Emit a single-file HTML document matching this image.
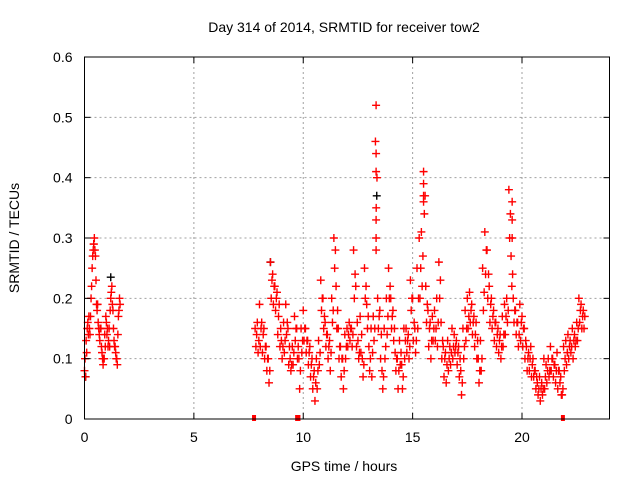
<!DOCTYPE html>
<html><head><meta charset="utf-8"><style>
html,body{margin:0;padding:0;background:#fff;}
svg{display:block;font-family:"Liberation Sans",sans-serif;}
</style></head><body>
<svg id="chart" width="640" height="480" viewBox="0 0 640 480" xmlns="http://www.w3.org/2000/svg">
<rect width="640" height="480" fill="#fff"/>
<text x="344" y="32" font-size="14" text-anchor="middle" fill="#000">Day 314 of 2014, SRMTID for receiver tow2</text>
<text transform="translate(19,238) rotate(-90)" font-size="14" text-anchor="middle" fill="#000">SRMTID / TECUs</text>
<text x="344" y="471" font-size="14" text-anchor="middle" fill="#000">GPS time / hours</text>
<g id="grid"></g>
<g id="marks"></g>
<g id="axes"></g>
</svg>
<script>
const xTicks = [0,5,10,15,20];
const yTicks = [0,0.1,0.2,0.3,0.4,0.5,0.6];
const yTickLabels = ["0","0.1","0.2","0.3","0.4","0.5","0.6"];
const seg1Start = 0.0;
const seg1Vals = [0.08,0.07,0.11,0.16,0.17,0.14,0.2,0.25,0.28,0.3,0.27,0.19,0.19,0.15,0.13,0.15,0.11,0.09,0.1,0.12,0.16,0.15,0.13,0.12,0.2,0.22,0.18,0.13,0.12,0.1,0.09,0.17,0.2];
const seg1Mid = [0.1,0.13,0.15,0.14,0.15,0.17,0.22,0.27,0.29,0.28,0.23,0.18,0.16,0.14,0.15,0.12,0.1,0.1,0.14,0.17,0.14,0.12,0.15,0.18,0.21,0.19,0.15,0.12,0.11,0.1,0.14,0.18,0.19];
const seg2Start = 7.8;
const seg2Hi = [.15,.16,
.19,.16,.15,.12,.1,.26,.24,.22,.21,.19,
.13,.16,.19,.15,.1,.12,.17,.15,.1,.15,
.18,.15,.13,.12,.1,.08,.1,.13,.23,.2,
.16,.14,.13,.2,.3,.22,.15,.12,.1,.14,
.15,.16,.15,.28,.22,.13,.17,.1,.25,.19,
.12,.15,.17,.46,.2,.18,.08,.15,.2,.25,
.2,.18,.11,.1,.13,.09,.15,.15,.14,.23,
.2,.15,.25,.3,.31,.41,.22,.18,.16,.17,
.18,.2,.26,.16,.12,.11,.13,.12,.15,.14,
.13,.12,.08,.15,.18,.2,.21,.19,.17,.16,
.1,.13,.25,.31,.28,.22,.2,.18,.16,.15,
.14,.17,.19,.2,.38,.27,.2,.18,.16,.19,
.17,.15,.12,.11,.12,.1,.08,.06,.07,.06,
.1,.09,.1,.12,.1,.09,.11,.08,.04,.12,
.13,.14,.13,.15,.14,.16,.2,.19,.18];
const seg2Lo = [.12,.11,
.12,.11,.1,.08,.06,.2,.19,.18,.14,.12,
.1,.11,.14,.09,.08,.09,.13,.1,.05,.11,
.13,.11,.09,.07,.05,.03,.05,.09,.18,.15,
.12,.1,.08,.16,.25,.15,.1,.07,.05,.1,
.12,.13,.12,.2,.12,.1,.11,.07,.2,.15,
.08,.07,.13,.35,.15,.1,.05,.1,.14,.2,
.15,.13,.08,.05,.09,.05,.1,.11,.1,.18,
.13,.11,.15,.2,.22,.34,.16,.12,.1,.13,
.13,.12,.2,.1,.07,.06,.08,.09,.1,.11,
.09,.07,.04,.1,.13,.15,.16,.14,.12,.1,
.06,.08,.18,.24,.2,.16,.15,.13,.12,.11,
.1,.12,.14,.16,.3,.22,.16,.14,.12,.13,
.12,.1,.08,.08,.07,.07,.05,.04,.03,.04,
.05,.06,.07,.08,.07,.06,.05,.06,.04,.08,
.09,.1,.11,.1,.12,.13,.16,.15,.15];
const seg2Mid = [.14,.13,
.15,.14,.12,.1,.08,.23,.22,.2,.17,.15,
.12,.13,.16,.12,.09,.11,.15,.12,.08,.13,
.15,.13,.11,.09,.07,.06,.08,.11,.2,.17,
.14,.12,.11,.18,.28,.18,.12,.1,.08,.12,
.14,.15,.14,.24,.16,.11,.14,.09,.22,.17,
.1,.11,.15,.4,.17,.14,.07,.12,.17,.22,
.17,.15,.1,.08,.11,.07,.13,.13,.12,.2,
.16,.13,.2,.25,.27,.37,.19,.15,.13,.15,
.15,.16,.23,.13,.1,.09,.1,.11,.12,.12,
.11,.1,.06,.12,.15,.17,.18,.16,.14,.13,
.08,.1,.21,.28,.24,.19,.17,.16,.14,.13,
.12,.14,.17,.18,.34,.24,.18,.16,.14,.16,
.15,.13,.1,.1,.09,.08,.07,.05,.05,.05,
.07,.08,.08,.1,.09,.08,.08,.07,.05,.1,
.11,.12,.12,.13,.13,.15,.18,.17,.17];
const spikeTimes = [13.33,13.33,13.33,13.33,13.33,13.33,15.5,15.5,15.5,19.55,19.55,19.55,0.42];
const spikeVals = [0.52,0.44,0.41,0.33,0.3,0.28,0.39,0.37,0.36,0.36,0.33,0.3,0.29];
const blackTimes = [0.05,1.2,8.5,13.36];
const blackVals = [0.07,0.235,0.26,0.37];
const zeroTimes = [7.75,9.72,9.78,21.87];

const X0=84.5, X1=609.5, Y0=419, Y1=57;
function sx(h){return X0+(h/24)*(X1-X0);}
function sy(v){return Y0-(v/0.6)*(Y0-Y1);}
const NS="http://www.w3.org/2000/svg";
function mk(tag,attrs,parent){const e=document.createElementNS(NS,tag);for(const k in attrs)e.setAttribute(k,attrs[k]);parent.appendChild(e);return e;}
const grid=document.getElementById('grid'), marks=document.getElementById('marks'), axes=document.getElementById('axes');

yTicks.forEach((v,i)=>{
  if(v>0&&v<0.6){const l=mk('line',{x1:X0,x2:X1,y1:sy(v),y2:sy(v),stroke:'#a0a0a0','stroke-dasharray':'2,3'},grid);
  
  }
  const t=mk('text',{x:X0-12,y:sy(v)+5,'font-size':14,'text-anchor':'end',fill:'#000'},axes);
  t.textContent=yTickLabels[i];
  
  
  mk('line',{x1:X0,x2:X0+6,y1:sy(v),y2:sy(v),stroke:'#000'},axes);
  mk('line',{x1:X1,x2:X1-6,y1:sy(v),y2:sy(v),stroke:'#000'},axes);
});
xTicks.forEach(h=>{
  if(h>0){const l=mk('line',{x1:sx(h),x2:sx(h),y1:Y0,y2:Y1,stroke:'#a0a0a0','stroke-dasharray':'2,3'},grid);
  
  }
  const t=mk('text',{x:sx(h),y:Y0+23,'font-size':14,'text-anchor':'middle',fill:'#000'},axes);
  t.textContent=String(h);
  
  
  mk('line',{x1:sx(h),x2:sx(h),y1:Y0,y2:Y0-6,stroke:'#000'},axes);
  mk('line',{x1:sx(h),x2:sx(h),y1:Y1,y2:Y1+6,stroke:'#000'},axes);
});
const frame=mk('rect',{x:X0,y:Y1,width:X1-X0,height:Y0-Y1,fill:'none',stroke:'#000'},axes);



function plus(h,v,color){
  const x=sx(h), y=sy(v);
  const p=mk('path',{d:`M${x-4},${y}H${x+4}M${x},${y-4}V${y+4}`,stroke:color,'stroke-width':1.4,fill:'none'},marks);
  
  
}
blackTimes.forEach((h,i)=>plus(h,blackVals[i],'#000'));
seg1Vals.forEach((v,i)=>plus(seg1Start+i*0.05,v,'#f00'));
seg1Mid.forEach((v,i)=>plus(seg1Start+i*0.05+0.025,v,'#f00'));
seg2Hi.forEach((v,i)=>plus(seg2Start+i*0.1,v,'#f00'));
seg2Lo.forEach((v,i)=>plus(seg2Start+i*0.1+0.035,v,'#f00'));
seg2Mid.forEach((v,i)=>plus(seg2Start+i*0.1+0.07,v,'#f00'));
spikeTimes.forEach((h,i)=>plus(h,spikeVals[i],'#f00'));
zeroTimes.forEach(h=>{
  const r=mk('rect',{x:sx(h)-2,y:Y0-4,width:4,height:6,fill:'#f00'},marks);
  
  
});
</script>
</body></html>
